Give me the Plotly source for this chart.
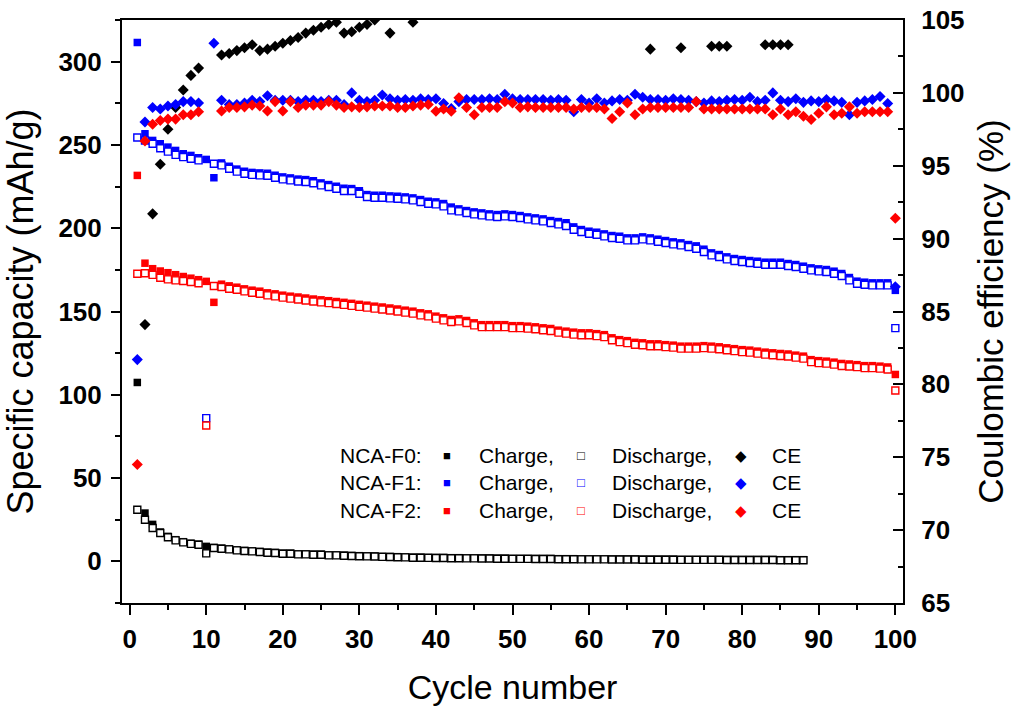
import plotly.graph_objects as go

# ---------------- data ----------------
cycles = list(range(1, 101))
cycles_f0 = list(range(1, 89))

f0_charge = [107.4, 29.0, 22.2, 17.6, 15.0, 13.0, 11.8, 10.9, 10.3, 9.0,
             8.3, 7.9, 7.5, 6.9, 6.5, 6.3, 5.9, 5.5, 5.3, 4.9,
             4.9, 4.5, 4.5, 4.3, 4.3, 3.9, 3.9, 3.7, 3.5, 3.4,
             3.3, 3.2, 3.0, 2.9, 2.8, 2.7, 2.5, 2.5, 2.4, 2.3,
             2.3, 2.2, 2.2, 2.1, 2.1, 2.0, 2.0, 1.9, 1.9, 1.8,
             1.8, 1.8, 1.7, 1.7, 1.7, 1.6, 1.6, 1.6, 1.5, 1.5,
             1.5, 1.5, 1.4, 1.4, 1.4, 1.4, 1.3, 1.3, 1.3, 1.3,
             1.3, 1.2, 1.2, 1.2, 1.2, 1.2, 1.2, 1.1, 1.1, 1.1,
             1.1, 1.1, 1.1, 1.1, 1.0, 1.0, 1.0, 1.0]
f0_discharge = [31.0, 25.0, 20.0, 17.0, 14.5, 12.6, 11.4, 10.5, 10.0, 4.8,
                8.0, 7.6, 7.2, 6.6, 6.2, 6.0, 5.6, 5.2, 5.0, 4.6,
                4.6, 4.2, 4.2, 4.0, 4.0, 3.6, 3.6, 3.4, 3.2, 3.1,
                3.0, 2.9, 2.7, 2.6, 2.5, 2.4, 2.2, 2.2, 2.1, 2.0,
                2.0, 1.9, 1.9, 1.8, 1.8, 1.7, 1.7, 1.6, 1.6, 1.5,
                1.5, 1.5, 1.4, 1.4, 1.4, 1.3, 1.3, 1.3, 1.2, 1.2,
                1.2, 1.2, 1.1, 1.1, 1.1, 1.1, 1.0, 1.0, 1.0, 1.0,
                1.0, 0.9, 0.9, 0.9, 0.9, 0.9, 0.9, 0.8, 0.8, 0.8,
                0.8, 0.8, 0.8, 0.8, 0.7, 0.7, 0.7, 0.7]
f0_ce_cycles = [2, 3, 4, 5, 6, 7, 8, 9, 12, 13, 14, 15, 16, 17, 18, 19, 20, 21, 22,
                23, 24, 25, 26, 27, 28, 29, 30, 31, 32, 34, 37,
                68, 72, 76, 77, 78, 83, 84, 85, 86]
f0_ce = [84.1, 91.7, 95.1, 97.5, 99.0, 100.2, 101.2, 101.7, 102.6, 102.7, 102.9, 103.1,
         103.3, 102.9, 103.0, 103.2, 103.4, 103.6, 103.8, 104.1, 104.3, 104.5, 104.7,
         104.85, 104.1, 104.2, 104.5, 104.7, 105.0, 104.1, 104.85,
         103.0, 103.1, 103.2, 103.2, 103.2, 103.3, 103.3, 103.3, 103.3]

f1_charge = [311.5, 256.7, 252.7, 250.7, 248.7, 246.7, 244.7, 243.7, 242.3, 241.3,
             230.3, 239.2, 237.2, 235.5, 234.2, 233.5, 233.2, 233.0, 231.8, 230.8,
             230.2, 229.5, 229.2, 228.5, 227.2, 226.2, 225.2, 224.0, 223.8, 222.5,
             220.2, 219.8, 219.8, 219.4, 219.2, 218.8, 218.2, 217.2, 216.2, 215.8,
             214.8, 212.7, 211.6, 210.6, 209.8, 209.2, 208.6, 208.2, 208.6, 208.2,
             207.6, 206.8, 206.2, 205.6, 204.6, 204.0, 203.3, 200.8, 199.2, 198.2,
             197.6, 196.6, 195.6, 195.2, 194.2, 194.2, 194.8, 194.2, 193.4, 192.6,
             191.8, 191.2, 190.2, 189.4, 187.4, 185.2, 184.2, 182.8, 181.8, 181.2,
             180.6, 180.2, 179.6, 179.6, 179.6, 178.8, 178.2, 177.2, 176.2, 175.6,
             175.2, 174.2, 172.8, 170.4, 168.2, 167.6, 167.2, 167.2, 167.2, 162.7]
f1_discharge = [254.5, 252.7, 250.7, 248.0, 246.0, 244.0, 242.7, 241.7, 240.7, 86.0,
                238.7, 237.7, 235.7, 234.0, 232.7, 232.0, 231.7, 231.5, 230.3, 229.3,
                228.7, 228.0, 227.7, 227.0, 225.7, 224.7, 223.7, 222.3, 222.3, 220.7,
                218.7, 218.3, 218.3, 217.9, 217.7, 217.3, 216.7, 215.7, 214.7, 214.3,
                213.1, 210.7, 210.1, 209.1, 208.3, 207.7, 207.1, 206.7, 207.1, 206.7,
                206.1, 205.3, 204.7, 204.1, 203.1, 202.3, 201.3, 199.1, 197.7, 196.7,
                196.1, 195.1, 194.1, 193.7, 192.7, 192.7, 193.3, 192.7, 191.9, 191.1,
                190.3, 189.7, 188.7, 187.7, 185.7, 183.7, 182.7, 181.3, 180.3, 179.7,
                179.1, 178.7, 178.1, 178.1, 178.1, 177.3, 176.7, 175.7, 174.7, 174.1,
                173.7, 172.7, 171.3, 168.7, 166.7, 166.1, 165.7, 165.7, 165.7, 140.0]
f1_ce = [81.7, 98.0, 99.0, 98.9, 99.1, 99.2, 99.4, 99.4, 99.3, None,
         103.4, 99.5, 99.2, 99.2, 99.3, 99.5, 99.4, 99.8, 99.5, 99.5,
         99.5, 99.4, 99.5, 99.5, 99.4, 99.5, 99.5, 99.2, 100.0, 99.5,
         99.4, 99.5, 99.85, 99.6, 99.5, 99.55, 99.5, 99.6, 99.55, 99.6,
         99.27, 98.93, 99.4, 99.55, 99.55, 99.55, 99.6, 99.55, 99.9, 99.6,
         99.55, 99.55, 99.55, 99.55, 99.5, 99.55, 99.5, 98.7, 99.55, 99.3,
         99.6, 99.3, 99.45, 99.55, 99.5, 99.9, 99.7, 99.55, 99.55, 99.5,
         99.6, 99.55, 99.5, 99.4, 99.3, 99.45, 99.4, 99.5, 99.55, 99.5,
         99.7, 99.4, 99.5, 100.0, 99.5, 99.4, 99.6, 99.35, 99.45, 99.4,
         99.55, 99.45, 99.35, 98.5, 99.35, 99.45, 99.55, 99.75, 99.27, 86.7]

f2_charge = [231.7, 179.0, 175.7, 174.3, 173.3, 172.1, 171.0, 170.0, 169.1, 168.1,
             155.5, 166.4, 165.4, 164.6, 163.6, 162.8, 162.2, 161.2, 160.6, 159.8,
             159.2, 158.7, 158.1, 157.5, 157.0, 156.5, 156.0, 155.5, 154.9, 154.3,
             153.8, 153.2, 152.7, 152.1, 151.5, 150.8, 150.2, 149.2, 148.6, 147.2,
             146.2, 145.2, 145.6, 144.6, 143.2, 142.1, 142.1, 142.1, 142.1, 141.5,
             141.5, 141.2, 140.8, 140.2, 139.8, 138.8, 138.2, 137.6, 137.2, 137.2,
             136.7, 136.1, 134.2, 133.1, 132.5, 131.5, 131.2, 130.6, 130.6, 130.1,
             129.8, 129.2, 129.2, 129.2, 129.5, 129.2, 128.8, 128.2, 127.7, 127.1,
             126.8, 126.2, 125.6, 125.2, 124.8, 124.5, 123.8, 123.2, 121.1, 120.5,
             120.2, 119.6, 118.8, 118.5, 118.1, 117.5, 117.5, 117.2, 116.7, 112.2]
f2_discharge = [172.7, 173.0, 172.0, 170.3, 169.3, 168.7, 168.3, 167.7, 167.0, 81.6,
                165.3, 164.7, 163.7, 163.1, 162.1, 161.3, 160.7, 159.7, 159.1, 158.3,
                157.7, 157.2, 156.6, 156.0, 155.5, 155.0, 154.5, 154.0, 153.4, 152.8,
                152.3, 151.7, 151.2, 150.6, 150.0, 149.3, 148.7, 147.7, 147.1, 145.7,
                144.7, 143.7, 144.1, 143.1, 141.7, 140.6, 140.6, 140.6, 140.6, 140.0,
                140.0, 139.7, 139.3, 138.7, 138.3, 137.3, 136.7, 136.1, 135.7, 135.7,
                135.2, 134.6, 132.7, 131.6, 131.0, 130.0, 129.7, 129.1, 129.1, 128.6,
                128.3, 127.7, 127.7, 127.7, 128.0, 127.7, 127.3, 126.7, 126.2, 125.6,
                125.3, 124.7, 124.1, 123.7, 123.3, 123.0, 122.3, 121.7, 119.6, 119.0,
                118.7, 118.1, 117.3, 117.0, 116.6, 116.0, 116.0, 115.7, 115.2, 102.6]
f2_ce = [74.5, 96.7, 97.85, 98.1, 98.2, 98.2, 98.5, 98.5, 98.7, None,
         None, 98.75, 99.0, 99.0, 99.04, 99.16, 99.1, 98.75, 99.4, 98.75,
         99.4, 99.0, 99.16, 99.16, 99.16, 99.4, 99.16, 99.0, 99.04, 99.0,
         99.04, 99.1, 99.1, 99.1, 99.0, 99.0, 99.1, 99.16, 99.2, 98.74,
         98.9, 98.74, 99.66, 99.0, 98.5, 99.0, 99.0, 99.0, 99.4, 99.3,
         99.0, 99.04, 99.0, 99.0, 99.0, 99.0, 99.0, 98.9, 99.0, 99.0,
         99.0, 98.9, 98.24, 98.7, 99.3, 98.5, 98.9, 99.0, 99.0, 99.0,
         99.0, 99.0, 99.0, 99.4, 98.9, 98.9, 98.9, 98.9, 98.9, 98.9,
         98.9, 98.9, 98.9, 98.5, 98.9, 98.5, 98.7, 98.4, 98.17, 98.6,
         99.04, 98.5, 98.6, 99.04, 98.6, 98.7, 98.7, 98.7, 98.7, 91.4]

series_names = ["NCA-F0:", "NCA-F1:", "NCA-F2:"]
series_colors = ["#000000", "#0000ff", "#ff0000"]
x_ticks = [0, 10, 20, 30, 40, 50, 60, 70, 80, 90, 100]

# ---------------- figure ----------------
FONT = "Liberation Sans, Arial, sans-serif"
fig = go.Figure()

caps = [(cycles_f0, f0_charge, f0_discharge), (cycles, f1_charge, f1_discharge),
        (cycles, f2_charge, f2_discharge)]
for (xs, ch, dis), col in zip(caps, series_colors):
    fig.add_trace(go.Scatter(x=xs, y=ch, mode="markers", showlegend=False,
                             marker=dict(symbol="square", size=7.5, color=col,
                                         line=dict(width=0))))
    fig.add_trace(go.Scatter(x=xs, y=dis, mode="markers", showlegend=False,
                             marker=dict(symbol="square", size=7, color="white",
                                         line=dict(width=1.4, color=col))))

ces = [(f0_ce_cycles, f0_ce), (cycles, f1_ce), (cycles, f2_ce)]
for (xs, ys), col in zip(ces, series_colors):
    fig.add_trace(go.Scatter(x=xs, y=ys, mode="markers", yaxis="y2", showlegend=False,
                             marker=dict(symbol="diamond", size=8.5, color=col,
                                         line=dict(width=0))))

# figure fills the whole 1017x713 page (body margin removed in post_script)
W, H = 1017, 713
PL, PR, PT, PB = 122, 903, 20, 603  # plot area in page pixels
L, R, T, B = PL, W - PR, PT, H - PB
pw, ph = PR - PL, PB - PT


def px(xp):
    return (xp - PL) / pw


def py(yp):
    return (PB - yp) / ph


row_y = [455, 482, 510]
sym_fill, sym_open, sym_dia = "\u25A0", "\u25A1", "\u25C6"
for name, col, yy in zip(series_names, series_colors, row_y):
    items = [(338, name, "black", 21, "left"),
             (447, sym_fill, col, 13, "center"),
             (477, "Charge,", "black", 21, "left"),
             (581, sym_open, col, 13, "center"),
             (610, "Discharge,", "black", 21, "left"),
             (741, sym_dia, col, 15, "center"),
             (770, "CE", "black", 21, "left")]
    for xx, txt, c, fs, anc in items:
        fig.add_annotation(x=px(xx), y=py(yy), xref="paper", yref="paper",
                           text=txt, showarrow=False, xanchor=anc, yanchor="middle",
                           font=dict(family=FONT, size=fs, color=c))

tickfont = dict(family=FONT, size=26, color="black", weight="bold")
fig.update_layout(
    width=W, height=H,
    margin=dict(l=L, r=R, t=T, b=B, autoexpand=False),
    plot_bgcolor="white", paper_bgcolor="white",
    xaxis=dict(range=[-1, 101], tickvals=x_ticks, ticks="outside", ticklen=10,
               tickwidth=2, tickcolor="black", showline=True, linewidth=2,
               linecolor="black", mirror=True, showgrid=False, zeroline=False,
               tickfont=tickfont, automargin=False, ticklabelstandoff=2,
               ticklabeloverflow="allow",
               minor=dict(dtick=5, tick0=0, ticks="outside", ticklen=5, tickwidth=2,
                          tickcolor="black", showgrid=False),
               title=dict(text="Cycle number", font=dict(family=FONT, size=34, color="black"),
                          standoff=22)),
    yaxis=dict(range=[-25, 325], tick0=0, dtick=50, ticks="outside", ticklen=9,
               tickwidth=2, tickcolor="black", showline=True, linewidth=2,
               linecolor="black", showgrid=False, zeroline=False, tickfont=tickfont,
               automargin=False, ticklabelstandoff=4, ticklabeloverflow="allow",
               minor=dict(dtick=25, tick0=0, ticks="outside", ticklen=5, tickwidth=2,
                          tickcolor="black", showgrid=False),
               title=dict(text="Specific capacity (mAh/g)",
                          font=dict(family=FONT, size=36, color="black"), standoff=14)),
    yaxis2=dict(range=[65, 105], tick0=65, dtick=5, overlaying="y", side="right",
                ticks="inside", ticklen=10, tickwidth=2, tickcolor="black",
                showline=True, linewidth=2, linecolor="black", showgrid=False,
                zeroline=False, tickfont=tickfont, automargin=False, ticklabelstandoff=11,
                ticklabeloverflow="allow",
                minor=dict(dtick=2.5, tick0=65, ticks="inside", ticklen=5, tickwidth=2,
                           tickcolor="black", showgrid=False),
                title=dict(text="Coulombic efficiency (%)",
                           font=dict(family=FONT, size=35, color="black"), standoff=15)),
)

fig.write_html("out.html", config={"displayModeBar": False},
               post_script="document.body.style.margin='0px';"
                           "document.body.style.overflow='hidden';")
